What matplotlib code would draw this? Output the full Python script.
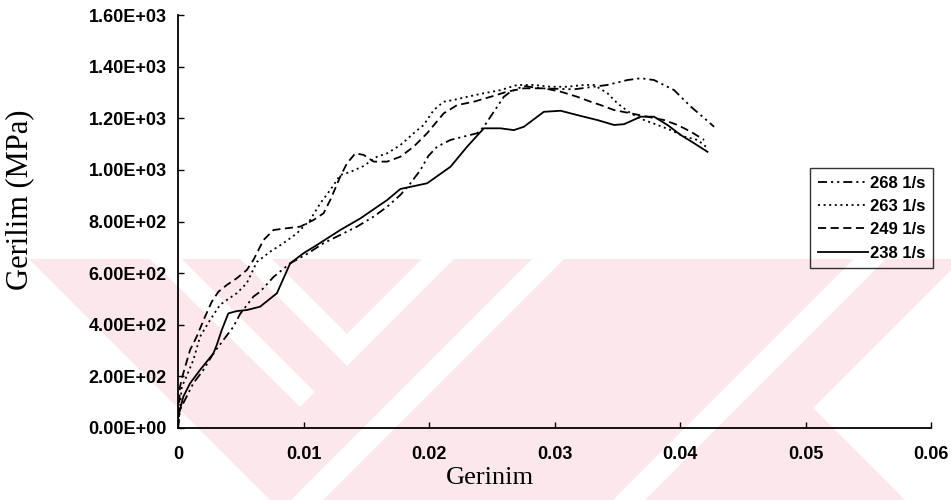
import matplotlib
matplotlib.use('Agg')
import matplotlib.pyplot as plt
from matplotlib.patches import Polygon, Rectangle

# ---------------- data ----------------
x268 = [0, 0.00016, 0.00042, 0.00122, 0.00202, 0.00282, 0.00362, 0.00441, 0.00495, 0.00601,
        0.00654, 0.00761, 0.00894, 0.01027, 0.01160, 0.01293, 0.01426, 0.01559, 0.01666, 0.01772,
        0.01852, 0.01931, 0.01995, 0.02065, 0.02171, 0.02277, 0.02384, 0.02437, 0.02490, 0.02544,
        0.02596, 0.02650, 0.02756, 0.02889, 0.03155, 0.03421, 0.03581, 0.03687, 0.03793, 0.03953,
        0.04086, 0.04192, 0.04272]
y268 = [0, 70, 96, 173, 225, 289, 341, 392, 442, 509,
        528, 585, 638, 674, 716, 748, 780, 819, 857, 903,
        948, 999, 1054, 1090, 1116, 1129, 1142, 1167, 1206, 1245,
        1283, 1303, 1325, 1316, 1312, 1329, 1348, 1355, 1348, 1309,
        1245, 1201, 1167]

x263 = [0, 0.0003, 0.00056, 0.00122, 0.00176, 0.00255, 0.00335, 0.00389, 0.00468, 0.00548,
        0.00628, 0.00734, 0.00840, 0.00947, 0.01053, 0.01133, 0.01213, 0.01293, 0.01373, 0.01479,
        0.01586, 0.01666, 0.01772, 0.01878, 0.01958, 0.02038, 0.02117, 0.02197, 0.02304, 0.02437,
        0.02570, 0.02703, 0.02836, 0.02969, 0.03102, 0.03235, 0.03314, 0.03422, 0.03501, 0.03607,
        0.03714, 0.03820, 0.03927, 0.04033, 0.04140, 0.04206]
y263 = [0, 160, 186, 263, 354, 418, 477, 496, 522, 561,
        643, 683, 716, 754, 806, 870, 922, 980, 992, 1015,
        1051, 1064, 1096, 1142, 1174, 1232, 1264, 1271, 1283, 1297,
        1309, 1329, 1329, 1322, 1322, 1329, 1329, 1297, 1258, 1219,
        1193, 1174, 1154, 1129, 1116, 1090]

x249 = [0, 0.00016, 0.00042, 0.00096, 0.00149, 0.00215, 0.00269, 0.00322, 0.00389, 0.00468,
        0.00548, 0.00601, 0.00681, 0.00761, 0.00868, 0.00974, 0.01080, 0.01160, 0.01213, 0.01293,
        0.01346, 0.01413, 0.01479, 0.01559, 0.01666, 0.01772, 0.01878, 0.01985, 0.02117, 0.02224,
        0.02357, 0.02490, 0.02623, 0.02756, 0.02915, 0.03049, 0.03182, 0.03288, 0.03368, 0.03474,
        0.03607, 0.03741, 0.03873, 0.03980, 0.04086, 0.04192]
y249 = [0, 160, 212, 302, 354, 431, 489, 528, 554, 580,
        612, 651, 728, 767, 774, 780, 806, 832, 883, 974,
        1025, 1064, 1058, 1032, 1032, 1051, 1090, 1142, 1219, 1251,
        1264, 1283, 1303, 1316, 1316, 1303, 1283, 1264, 1251, 1232,
        1219, 1206, 1193, 1174, 1148, 1116]

x238 = [0, 0.00002, 0.00042, 0.00096, 0.00176, 0.00282, 0.00309, 0.00349, 0.00401, 0.00468,
        0.00548, 0.00654, 0.00788, 0.00894, 0.01000, 0.01107, 0.01293, 0.01453, 0.01666, 0.01772,
        0.01985, 0.02171, 0.02304, 0.02437, 0.02570, 0.02676, 0.02756, 0.02915, 0.03049, 0.03208,
        0.03342, 0.03474, 0.03554, 0.03687, 0.03793, 0.03900, 0.04006, 0.04113, 0.04219]
y238 = [0, 44, 121, 173, 225, 289, 322, 380, 444, 453,
        457, 470, 522, 638, 677, 709, 767, 812, 883, 926,
        948, 1012, 1090, 1161, 1161, 1154, 1167, 1225, 1229, 1209,
        1193, 1174, 1177, 1206, 1206, 1174, 1135, 1103, 1070]

series_labels = ['268 1/s', '263 1/s', '249 1/s', '238 1/s']

xticks = [0, 0.01, 0.02, 0.03, 0.04, 0.05, 0.06]
xtick_labels = ['0', '0.01', '0.02', '0.03', '0.04', '0.05', '0.06']
yticks = [0, 200, 400, 600, 800, 1000, 1200, 1400, 1600]
ytick_labels = ['0.00E+00', '2.00E+02', '4.00E+02', '6.00E+02', '8.00E+02',
                '1.00E+03', '1.20E+03', '1.40E+03', '1.60E+03']

x_label = 'Gerinim'
y_label = 'Gerilim (MPa)'

# ---------------- figure ----------------
W, H = 951, 500
fig = plt.figure(figsize=(W / 100, H / 100), dpi=100)
fig.patch.set_facecolor('white')

# faint watermark in the background (pixel coordinates of the page)
bg = fig.add_axes([0, 0, 1, 1], zorder=0)
bg.set_xlim(0, W)
bg.set_ylim(H, 0)
bg.axis('off')
pink = '#fce7ec'
bg.add_patch(Rectangle((0, 259), W, H - 259, facecolor=pink, edgecolor='none'))
white_shapes = [
    [(0, 259), (29, 259), (270, 500), (0, 500)],
    [(150, 259), (182, 259), (315, 392), (300, 407), (285, 392)],
    [(240, 259), (272, 259), (347, 334), (422, 259), (454, 259), (347, 366)],
    [(532, 259), (564, 259), (323, 500), (291, 500)],
    [(854, 259), (886, 259), (645, 500), (613, 500)],
    [(813, 408), (951, 270), (951, 500), (905, 500)],
]
for pts in white_shapes:
    bg.add_patch(Polygon(pts, closed=True, facecolor='white', edgecolor='none'))

left, right, top, bottom = 178, 931, 15, 428
ax = fig.add_axes([left / W, 1 - bottom / H, (right - left) / W, (bottom - top) / H], zorder=1)
ax.set_facecolor('none')

lw = 1.3
styles = [
    (0, (5, 2.2, 1.2, 2.2, 1.2, 2.2)),
    (0, (1.1, 2.0)),
    (0, (4.5, 2.5)),
    '-',
]
xs = [x268, x263, x249, x238]
ys = [y268, y263, y249, y238]
for xv, yv, ls, lab in zip(xs, ys, styles, series_labels):
    ax.plot(xv, yv, color='black', linestyle=ls, linewidth=lw, label=lab)

ax.set_xlim(0, 0.06)
ax.set_ylim(0, 1600)
ax.set_xticks(xticks)
ax.set_xticklabels(xtick_labels)
ax.set_yticks(yticks)
ax.set_yticklabels(ytick_labels)

for s in ['top', 'right']:
    ax.spines[s].set_visible(False)
for s in ['left', 'bottom']:
    ax.spines[s].set_linewidth(1.3)
    ax.spines[s].set_color('black')

ax.tick_params(axis='both', direction='in', length=4, width=1, color='black')
ax.tick_params(axis='y', pad=8)
ax.tick_params(axis='x', pad=13)
for t in ax.get_xticklabels() + ax.get_yticklabels():
    t.set_fontfamily('Liberation Sans')
    t.set_fontweight('bold')
    t.set_fontsize(13)

ax.set_xlabel(x_label, family='Liberation Serif', fontsize=19)
ax.xaxis.set_label_coords((490 - left) / (right - left), (bottom - 478) / (bottom - top))
ax.xaxis.label.set_va('center')
ax.set_ylabel(y_label, family='Liberation Serif', fontsize=22)
ax.yaxis.set_label_coords((20 - left) / (right - left), (bottom - 200) / (bottom - top))
ax.yaxis.label.set_va('center')

leg = ax.legend(loc='upper left', bbox_to_anchor=(810 / W, 1 - 168 / H),
                bbox_transform=fig.transFigure, frameon=True, fancybox=False,
                facecolor='none', edgecolor='black', framealpha=None,
                prop=dict(family='Liberation Sans', weight='bold', size=12),
                handlelength=3.0, handletextpad=0.15, labelspacing=0.5,
                borderpad=0.45, borderaxespad=0)
leg.get_frame().set_linewidth(1.0)

fig.savefig('out.png', dpi=100)
